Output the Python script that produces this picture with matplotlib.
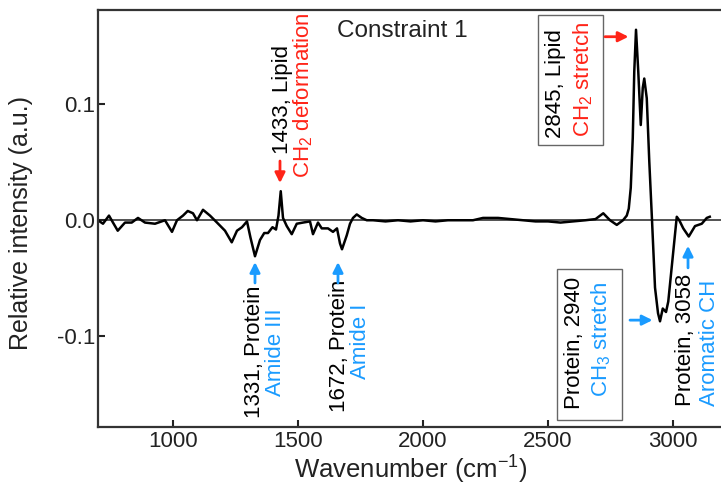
import matplotlib
matplotlib.use("Agg")
import matplotlib.pyplot as plt
from matplotlib.patches import Rectangle

plt.rcParams["font.family"] = ["Liberation Sans", "DejaVu Sans"]
plt.rcParams["mathtext.fontset"] = "custom"
plt.rcParams["mathtext.rm"] = "Liberation Sans"
plt.rcParams["mathtext.it"] = "Liberation Sans:italic"
plt.rcParams["mathtext.default"] = "regular"
plt.rcParams["axes.unicode_minus"] = False

# spectrum (wavenumber in cm-1, relative intensity)
wavenumber = [700, 720, 744, 760, 779, 808, 835, 860, 888, 928, 968, 996, 1016,
              1040, 1059, 1080, 1096, 1120, 1148, 1176, 1208, 1235, 1256, 1276,
              1296, 1310, 1328, 1348, 1365, 1380, 1398, 1412, 1422, 1431, 1440,
              1455, 1475, 1495, 1520, 1548, 1560, 1580, 1595, 1620, 1640, 1656,
              1668, 1676, 1695, 1708, 1720, 1735, 1755, 1775, 1800, 1850, 1900,
              1950, 2000, 2050, 2100, 2150, 2200, 2240, 2300, 2350, 2400, 2450,
              2500, 2550, 2600, 2650, 2690, 2721, 2748, 2775, 2800, 2815, 2823,
              2831, 2839, 2845, 2852, 2861, 2871, 2879, 2885, 2895, 2905, 2916,
              2928, 2940, 2948, 2959, 2972, 2981, 3001, 3015, 3025, 3041, 3063,
              3088, 3115, 3135, 3147]
intensity = [0.000, -0.003, 0.004, -0.002, -0.009, -0.002, -0.002, 0.002, -0.002,
             -0.003, 0.000, -0.010, 0.000, 0.004, 0.008, 0.006, 0.000, 0.009,
             0.004, -0.002, -0.009, -0.019, -0.009, -0.006, -0.001, -0.015,
             -0.031, -0.017, -0.011, -0.011, -0.006, -0.008, 0.004, 0.025, 0.002,
             -0.005, -0.012, -0.003, -0.002, -0.001, -0.012, -0.002, -0.007,
             -0.007, -0.010, -0.007, -0.020, -0.025, -0.013, -0.003, 0.002, 0.005,
             0.002, 0.000, 0.000, -0.001, 0.000, -0.001, 0.000, -0.001, 0.000,
             0.000, 0.000, 0.002, 0.002, 0.001, 0.000, -0.001, -0.001, -0.002,
             -0.001, 0.000, 0.001, 0.006, 0.000, -0.004, 0.000, 0.004, 0.010,
             0.028, 0.071, 0.128, 0.164, 0.128, 0.082, 0.114, 0.122, 0.105, 0.051,
             0.000, -0.058, -0.080, -0.087, -0.076, -0.079, -0.070, -0.027, 0.003,
             0.000, -0.007, -0.014, -0.005, -0.003, 0.002, 0.003]

xticks = [1000, 1500, 2000, 2500, 3000]
yticks = [-0.1, 0.0, 0.1]
ytick_labels = ["-0.1", "0.0", "0.1"]

RED = "#ff2418"
BLUE = "#1a9bff"

fig = plt.figure(figsize=(7.21, 4.86), dpi=100)
ax = fig.add_axes([0.1359, 0.1214, 0.8669, 0.858])

ax.axhline(0, color="#444444", lw=1.3, zorder=1)
ax.plot(wavenumber, intensity, color="black", lw=1.8, zorder=2)

ax.set_xlim(700, 3200)
ax.set_ylim(-0.178, 0.181)
ax.set_xticks(xticks)
ax.set_yticks(yticks)
ax.set_yticklabels(ytick_labels)
ax.tick_params(direction="in", length=5, width=1.5, colors="#222222", labelsize=16)
ax.tick_params(axis="x", pad=3)
ax.tick_params(axis="y", pad=2)
for s in ax.spines.values():
    s.set_linewidth(1.6)
    s.set_color("#333333")

ax.set_xlabel("Wavenumber (cm$^{-1}$)", fontsize=18.5, color="#222222")
ax.set_ylabel("Relative intensity (a.u.)", fontsize=18, color="#222222")
ax.xaxis.set_label_coords(0.5, -0.064)
ax.yaxis.set_label_coords(-0.104, 0.49)

ax.text(1656, 0.163, "Constraint 1", fontsize=17.5, ha="left", va="center", color="#222222")

fs = 16
arrow_kw = dict(arrowstyle="-|>", lw=2, mutation_scale=15, shrinkA=0, shrinkB=0)

# 1433 lipid
ax.text(1440, 0.104, "1433, Lipid", rotation=90, ha="center", va="center", fontsize=fs)
ax.text(1522, 0.108, "CH$_2$ deformation", rotation=90, ha="center", va="center",
        fontsize=fs, color=RED)
ax.annotate("", xy=(1428, 0.032), xytext=(1428, 0.051),
            arrowprops=dict(color=RED, **arrow_kw))

# 2845 lipid (boxed)
ax.add_patch(Rectangle((2460, 0.065), 260, 0.112, fill=False, edgecolor="#666666", lw=1))
ax.text(2528, 0.118, "2845, Lipid", rotation=90, ha="center", va="center", fontsize=fs)
ax.text(2640, 0.121, "CH$_2$ stretch", rotation=90, ha="center", va="center",
        fontsize=fs, color=RED)
ax.annotate("", xy=(2822, 0.158), xytext=(2728, 0.158),
            arrowprops=dict(color=RED, **arrow_kw))

# 1331 protein
ax.text(1328, -0.113, "1331, Protein", rotation=90, ha="center", va="center", fontsize=fs)
ax.text(1412, -0.114, "Amide III", rotation=90, ha="center", va="center",
        fontsize=fs, color=BLUE)
ax.annotate("", xy=(1328, -0.036), xytext=(1328, -0.054),
            arrowprops=dict(color=BLUE, **arrow_kw))

# 1672 protein
ax.text(1668, -0.108, "1672, Protein", rotation=90, ha="center", va="center", fontsize=fs)
ax.text(1752, -0.104, "Amide I", rotation=90, ha="center", va="center",
        fontsize=fs, color=BLUE)
ax.annotate("", xy=(1660, -0.036), xytext=(1660, -0.054),
            arrowprops=dict(color=BLUE, **arrow_kw))

# 2940 protein (boxed)
ax.add_patch(Rectangle((2536, -0.172), 260, 0.130, fill=False, edgecolor="#666666", lw=1))
ax.text(2604, -0.106, "Protein, 2940", rotation=90, ha="center", va="center", fontsize=fs)
ax.text(2712, -0.103, "CH$_3$ stretch", rotation=90, ha="center", va="center",
        fontsize=fs, color=BLUE)
ax.annotate("", xy=(2918, -0.086), xytext=(2828, -0.086),
            arrowprops=dict(color=BLUE, **arrow_kw))

# 3058 protein
ax.text(3048, -0.103, "Protein, 3058", rotation=90, ha="center", va="center", fontsize=fs)
ax.text(3146, -0.106, "Aromatic CH", rotation=90, ha="center", va="center",
        fontsize=fs, color=BLUE)
ax.annotate("", xy=(3060, -0.022), xytext=(3060, -0.041),
            arrowprops=dict(color=BLUE, **arrow_kw))

fig.savefig("out.png", dpi=100)
